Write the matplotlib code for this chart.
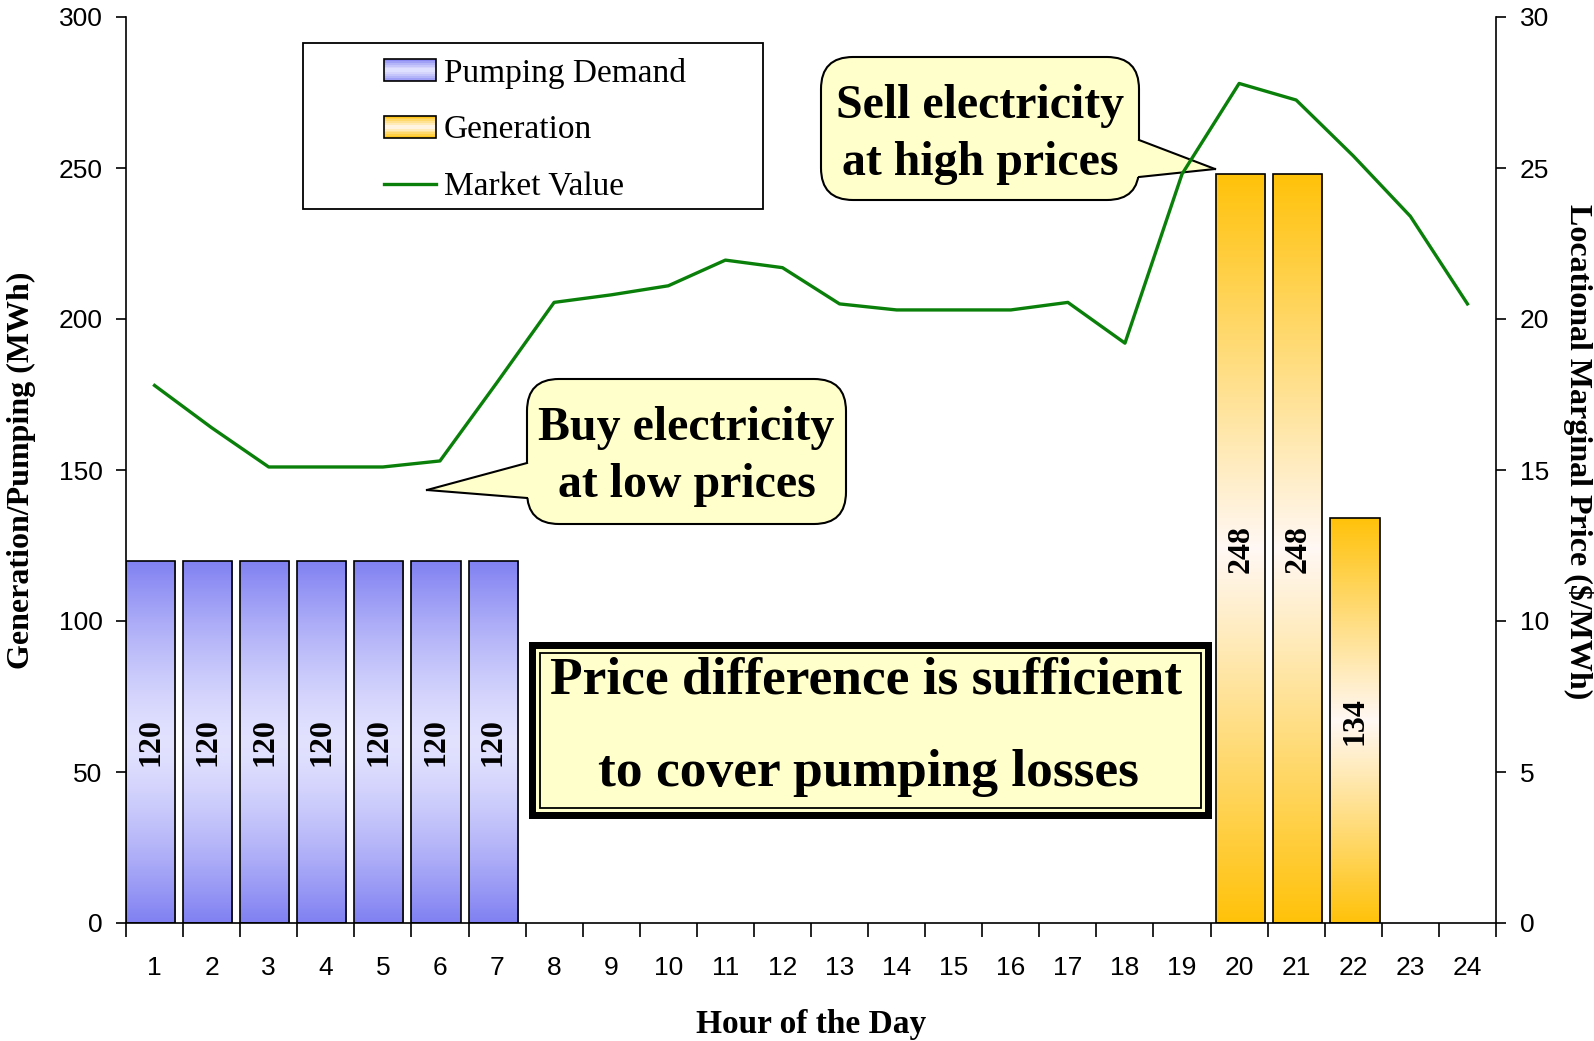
import numpy as np
import matplotlib.pyplot as plt
from matplotlib.patches import Rectangle, FancyBboxPatch, Polygon, Patch
from matplotlib.lines import Line2D
from matplotlib.legend_handler import HandlerBase
from matplotlib.transforms import Affine2D
from matplotlib.colors import to_rgb

hours = np.arange(1, 25)
pumping = np.array([120, 120, 120, 120, 120, 120, 120] + [0] * 17)
generation = np.array([0] * 19 + [248, 248, 134, 0, 0])
market_value = [17.8, 16.4, 15.1, 15.1, 15.1, 15.3, 17.9, 20.55, 20.8, 21.1, 21.95, 21.7,
                20.5, 20.3, 20.3, 20.3, 20.55, 19.2, 24.8, 27.8, 27.25, 25.4, 23.4, 20.5]

W, H = 1594, 1041
SERIF = 'Liberation Serif'
NARROW = ['Liberation Sans Narrow', 'Liberation Sans']
YELLOW = '#FFFFCC'

blue_dark, blue_light = np.array(to_rgb('#8080F2')), np.array(to_rgb('#E2E2FF'))
gold_dark, gold_light = np.array(to_rgb('#FFC20A')), np.array(to_rgb('#FFF8F4'))


def shade(dark, light, f, power):
    t = np.abs(2 * f - 1) ** power
    return light * (1 - t) + dark * t


def gradient_fill(ax, patches, dark, light, power):
    # paint each bar with a vertical gradient (dark at both ends, light in the middle)
    f = np.linspace(0, 1, 256)
    img = np.array([shade(dark, light, v, power) for v in f])[:, None, :]
    for p in patches:
        if p.get_height() <= 0:
            p.set_visible(False)
            continue
        x0, w, h = p.get_x(), p.get_width(), p.get_height()
        im = ax.imshow(img, extent=(x0, x0 + w, 0, h), origin='lower', aspect='auto',
                       interpolation='bilinear', zorder=2)
        im.set_clip_path(p)


class GradientSwatch(HandlerBase):
    def __init__(self, dark, light, power):
        super().__init__()
        self.dark, self.light, self.power = dark, light, power

    def create_artists(self, legend, orig_handle, xdescent, ydescent, width, height, fontsize, trans):
        arts = []
        n = 12
        for k in range(n):
            c = shade(self.dark, self.light, (k + 0.5) / n, self.power)
            arts.append(Rectangle((-xdescent, -ydescent + k * height / n), width, height / n,
                                  facecolor=c, edgecolor='none', transform=trans))
        arts.append(Rectangle((-xdescent, -ydescent), width, height, facecolor='none',
                              edgecolor='black', lw=1.2, transform=trans))
        return arts


fig = plt.figure(figsize=(W / 100, H / 100), dpi=100)
# pixel coordinates measured from the top-left corner of the figure
px = Affine2D().scale(1 / W, -1 / H).translate(0, 1) + fig.transFigure

ax = fig.add_axes([126 / W, 1 - 923 / H, (1496 - 126) / W, (923 - 17) / H])

pump_bars = ax.bar(hours - 0.5, pumping, width=0.86, align='edge', facecolor='none',
                   edgecolor='black', linewidth=1.2, zorder=3)
gen_bars = ax.bar(hours - 0.4, generation, width=0.86, align='edge', facecolor='none',
                  edgecolor='black', linewidth=1.2, zorder=3)
gradient_fill(ax, pump_bars, blue_dark, blue_light, 1.4)
gradient_fill(ax, gen_bars, gold_dark, gold_light, 1.0)

for p, v in list(zip(pump_bars, pumping)) + list(zip(gen_bars, generation)):
    if v > 0:
        ax.text(p.get_x() + p.get_width() / 2, v / 2, str(v), rotation=90, ha='center',
                va='center', fontsize=23, fontweight='bold', family=SERIF, zorder=4)

ax.set_xlim(0.5, 24.5)
ax.set_ylim(0, 300)
ax.set_yticks(np.arange(0, 301, 50))
ax.set_xticks(np.arange(0.5, 25, 1))
ax.set_xticklabels([])
ax.set_xticks(hours, minor=True)
ax.set_xticklabels([str(h) for h in hours], minor=True, family=NARROW, fontsize=19)
ax.tick_params(axis='x', which='major', direction='out', length=10, width=1.2)
ax.tick_params(axis='x', which='minor', length=0, pad=24)
ax.tick_params(axis='y', direction='out', length=7, width=1.2, pad=10, labelsize=19)
for lab in ax.get_yticklabels():
    lab.set_family(NARROW)
ax.spines['top'].set_visible(False)
ax.spines['right'].set_visible(False)
for s in ('left', 'bottom'):
    ax.spines[s].set_linewidth(1.2)

ax.set_xlabel('Hour of the Day', family=SERIF, fontweight='bold', fontsize=24, va='center')
ax.xaxis.set_label_coords(0.5, -0.112)
ax.set_ylabel('Generation/Pumping (MWh)', family=SERIF, fontweight='bold', fontsize=23,
              va='center', ha='center')
ax.yaxis.set_label_coords(-0.076, 0.5)

ax2 = ax.twinx()
ax2.plot(hours, market_value, color='#0A800A', linewidth=2.4, zorder=5)
ax2.set_ylim(0, 30)
ax2.set_yticks(np.arange(0, 31, 5))
ax2.tick_params(axis='y', direction='out', length=7, width=1.2, pad=10, labelsize=19)
for lab in ax2.get_yticklabels():
    lab.set_family(NARROW)
for s in ('top', 'left', 'bottom'):
    ax2.spines[s].set_visible(False)
ax2.spines['right'].set_linewidth(1.2)
ax2.set_ylabel('Locational Marginal Price ($/MWh)', family=SERIF, fontweight='bold',
               fontsize=23, rotation=-90, va='center', ha='center')
ax2.yaxis.set_label_coords(1.06, 0.52)

# legend with its own frame
ax2.add_patch(Rectangle((303, 43), 460, 166, transform=px, facecolor='white',
                        edgecolor='black', lw=1.3, clip_on=False, zorder=6))
h_pump = Patch(label='Pumping Demand')
h_gen = Patch(label='Generation')
h_mv = Line2D([], [], color='#0A800A', lw=2.4, label='Market Value')
leg = ax2.legend(handles=[h_pump, h_gen, h_mv], loc='upper left',
                 bbox_to_anchor=(384 / W, 1 - 58 / H), bbox_transform=fig.transFigure,
                 frameon=False, borderpad=0, borderaxespad=0, handlelength=1.55,
                 handleheight=0.65, handletextpad=0.25, labelspacing=0.78,
                 prop={'family': SERIF, 'size': 24},
                 handler_map={h_pump: GradientSwatch(blue_dark, blue_light, 1.4),
                              h_gen: GradientSwatch(gold_dark, gold_light, 1.0)})
leg.set_zorder(7)


def callout(x0, y0, x1, y1, tip, b1, b2, side, lines, baselines):
    box = FancyBboxPatch((x0, y0), x1 - x0, y1 - y0, boxstyle='round,pad=0,rounding_size=32',
                         transform=px, facecolor=YELLOW, edgecolor='black', lw=1.5,
                         clip_on=False, zorder=4)
    ax.add_patch(box)
    bx = x0 if side == 'left' else x1
    inset = 4 if side == 'left' else -4
    ax.add_patch(Polygon([tip, (bx, b1), (bx + inset, b1), (bx + inset, b2), (bx, b2)],
                         closed=True, transform=px, facecolor=YELLOW, edgecolor='none',
                         clip_on=False, zorder=4.1))
    for b in (b1, b2):
        ax.add_line(Line2D([tip[0], bx], [tip[1], b], transform=px, color='black', lw=1.5,
                           clip_on=False, zorder=4.2))
    for s, yb in zip(lines, baselines):
        ax.text((x0 + x1) / 2, yb, s, transform=px, ha='center', va='baseline', family=SERIF,
                fontweight='bold', fontsize=34.5, zorder=4.3)


callout(527, 379, 846, 524, (427, 490), 463, 498, 'left',
        ['Buy electricity', 'at low prices'], [440, 497])
callout(821, 57, 1139, 200, (1215, 169), 140, 177, 'right',
        ['Sell electricity', 'at high prices'], [118, 175])

# framed conclusion box
ax.add_patch(Rectangle((529, 642), 683, 177, transform=px, facecolor='black',
                       edgecolor='none', clip_on=False, zorder=4))
ax.add_patch(Rectangle((536, 649), 669, 163, transform=px, facecolor=YELLOW,
                       edgecolor='none', clip_on=False, zorder=4.1))
ax.add_patch(Rectangle((540, 653), 661, 155, transform=px, facecolor='none',
                       edgecolor='black', lw=1.3, clip_on=False, zorder=4.2))
ax.text(866, 694, 'Price difference is sufficient', transform=px, ha='center', va='baseline',
        family=SERIF, fontweight='bold', fontsize=38.5, zorder=4.3)
ax.text(868, 786, 'to cover pumping losses', transform=px, ha='center', va='baseline',
        family=SERIF, fontweight='bold', fontsize=38.5, zorder=4.3)

fig.savefig('out.png', dpi=100)
